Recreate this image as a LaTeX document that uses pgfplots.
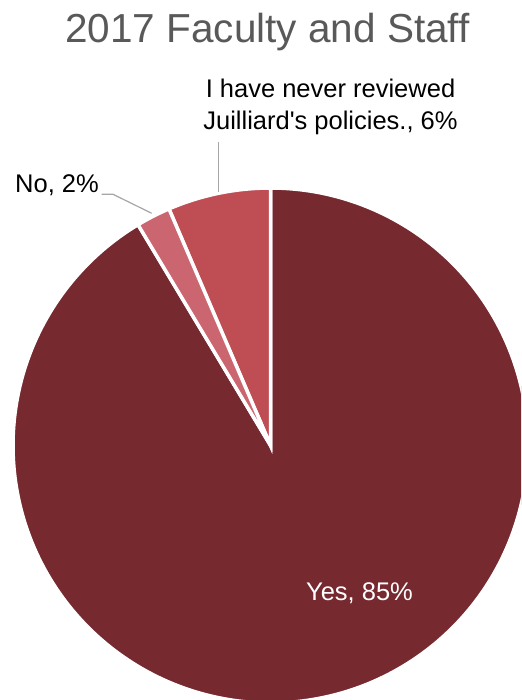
\documentclass[border=0pt]{standalone}
\usepackage{pgfplots}
\pgfplotsset{compat=1.18}
\usepackage{fontspec}
\setmainfont{Liberation Sans}
\definecolor{yescol}{HTML}{76292F}
\definecolor{nevercol}{HTML}{BF4D54}
\definecolor{nocol}{HTML}{CB6671}
\definecolor{titlecol}{HTML}{595959}
\definecolor{leadcol}{HTML}{A6A6A6}
\begin{document}
\begin{tikzpicture}
% data (percent of respondents)
\def\vyes{85}
\def\vno{2}
\def\vnever{6}
\pgfmathsetmacro\tot{\vyes+\vno+\vnever}
\pgfmathsetmacro\aYes{90-360*(\vyes/\tot)}
\pgfmathsetmacro\aNever{90+360*(\vnever/\tot)}
\pgfmathsetmacro\aNo{\aNever+360*(\vno/\tot)}
\def\cx{270.5}
\def\cy{254.5}
\def\rr{257.5}
\useasboundingbox (0,0) rectangle (521pt,700pt);
\begin{axis}[
  anchor=south west, at={(0,0)},
  scale only axis, width=521pt, height=700pt,
  xmin=0, xmax=521, ymin=0, ymax=700,
  hide axis, clip=true,
]
\addplot[draw=white, line width=3.5pt, fill=yescol, domain=\aYes:90, samples=300, variable=\t]
  ({\cx+\rr*cos(\t)},{\cy+\rr*sin(\t)}) -- (axis cs:\cx,\cy) -- cycle;
\addplot[draw=white, line width=3.5pt, fill=nevercol, domain=90:\aNever, samples=40, variable=\t]
  ({\cx+\rr*cos(\t)},{\cy+\rr*sin(\t)}) -- (axis cs:\cx,\cy) -- cycle;
\addplot[draw=white, line width=3.5pt, fill=nocol, domain=\aNever:\aNo, samples=20, variable=\t]
  ({\cx+\rr*cos(\t)},{\cy+\rr*sin(\t)}) -- (axis cs:\cx,\cy) -- cycle;
% leader lines
\addplot[leadcol, line width=1.2pt, mark=none] coordinates {(101.7,505.7) (113,505.7) (151.7,486.7)};
\addplot[leadcol, line width=1.2pt, mark=none] coordinates {(218.3,558.3) (218.3,508.3)};
% texts
\node[anchor=base, text=titlecol, font=\fontsize{40.5}{48}\selectfont] at (axis cs:267.5,657) {2017 Faculty and Staff};
\node[anchor=base west, inner sep=0pt, font=\fontsize{25.5}{30}\selectfont] at (axis cs:15,507) {No, 2\%};
\node[anchor=base, inner sep=0pt, font=\fontsize{25.5}{30}\selectfont] at (axis cs:330.5,602) {I have never reviewed};
\node[anchor=base, inner sep=0pt, font=\fontsize{25.5}{30}\selectfont] at (axis cs:330.5,570) {Juilliard\textquotesingle s policies., 6\%};
\node[anchor=base, inner sep=0pt, text=white, font=\fontsize{25.5}{30}\selectfont] at (axis cs:359.5,99) {Yes, 85\%};
\end{axis}
\end{tikzpicture}
\end{document}
